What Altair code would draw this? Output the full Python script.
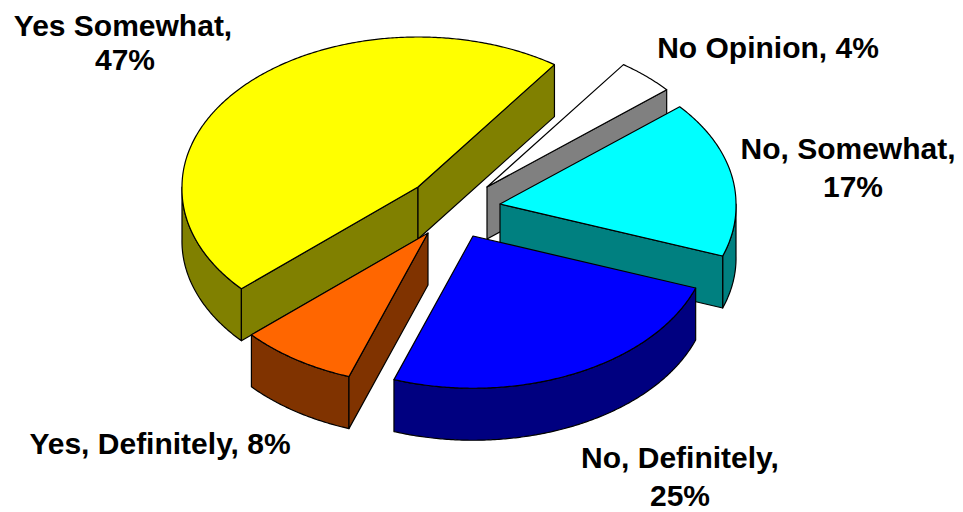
import math
import altair as alt

# Chart values
labels = ["Yes Somewhat", "No Opinion", "No, Somewhat", "No, Definitely", "Yes, Definitely"]
values = [47, 4, 17, 25, 8]
top_colors = ["#FFFF00", "#FFFFFF", "#00FFFF", "#0000FF", "#FF6600"]
side_colors = ["#808000", "#808080", "#008080", "#000080", "#803300"]
# Apex of each exploded slice on the picture
apex_x = [418, 487, 500, 473, 428]
apex_y = [187, 187, 204, 236, 233]
draw_order = [1, 0, 2, 4, 3]

# Text lines: text, centre x, centre y
text_lines = ["Yes Somewhat,", "47%", "No Opinion, 4%", "No, Somewhat,", "17%",
              "No, Definitely,", "25%", "Yes, Definitely, 8%"]
text_x = [123, 125, 768, 848, 853, 680, 680, 160]
text_y = [27, 61, 49, 150, 188, 459, 497, 445]

RX, RY, DEPTH, START, NEAR = 236, 150, 52, 222.2, 0.015


def rad_pt(cx, cy, deg, dz=0):
    a = math.radians(deg)
    s = math.sin(a)
    near = 1 + NEAR * max(0.0, -s)  # the near rim of the tilted pie reads slightly larger
    return [cx + RX * near * math.cos(a), cy - RY * near * s + dz]


def arc(cx, cy, a0, a1, dz=0):
    n = max(2, int(abs(a0 - a1) * 2))
    return [rad_pt(cx, cy, a0 + (a1 - a0) * i / n, dz) for i in range(n + 1)]


def feature(points, fill):
    ring = points + [points[0]]
    return {"type": "Feature", "properties": {"fill": fill},
            "geometry": {"type": "Polygon", "coordinates": [ring]}}


total = sum(values)
angles = []
cur = START
for v in values:
    angles.append((cur, cur - v / total * 360))
    cur -= v / total * 360

features = []
for i in draw_order:
    cx, cy = apex_x[i], apex_y[i]
    hi, lo = angles[i]
    side = side_colors[i]
    # Outer wall where the rim faces the viewer (sin < 0)
    segs = []
    for k in (-1, 0):
        s0, s1 = 180 + 360 * k, 360 + 360 * k
        a, b = max(lo, s0), min(hi, s1)
        if b > a:
            segs.append((a, b))
    for a, b in segs:
        features.append(feature(arc(cx, cy, a, b) + arc(cx, cy, b, a, DEPTH), side))
    # Radial walls facing the viewer
    for ang, visible in ((hi, math.cos(math.radians(hi)) < 0), (lo, math.cos(math.radians(lo)) > 0)):
        if visible:
            p = rad_pt(cx, cy, ang)
            features.append(feature([[cx, cy], p, [p[0], p[1] + DEPTH], [cx, cy + DEPTH]], side))
    # Top face
    features.append(feature([[cx, cy]] + arc(cx, cy, hi, lo), top_colors[i]))

geo = alt.InlineData(values={"type": "FeatureCollection", "features": features},
                     format=alt.DataFormat(type="json", property="features"))

shapes = alt.Chart(geo).mark_geoshape(stroke="black", strokeWidth=1.2, strokeJoin="round").encode(
    fill=alt.Fill("properties.fill:N", scale=None)
).project(type="identity", scale=1, translate=[-8, -8])

rows = [{"t": t, "x": x - 8, "y": y - 8} for t, x, y in zip(text_lines, text_x, text_y)]
text = alt.Chart(alt.Data(values=rows)).mark_text(
    font="Liberation Sans", fontWeight="bold", fontSize=30, color="black",
    align="center", baseline="middle"
).encode(
    x=alt.X("x:Q", scale=None), y=alt.Y("y:Q", scale=None), text="t:N"
)

chart = alt.layer(shapes, text).properties(
    width=947, height=504, padding=0,
    autosize=alt.AutoSizeParams(type="none")
).configure_view(stroke=None)

chart.save("out.html", embed_options={"renderer": "svg", "actions": False})
